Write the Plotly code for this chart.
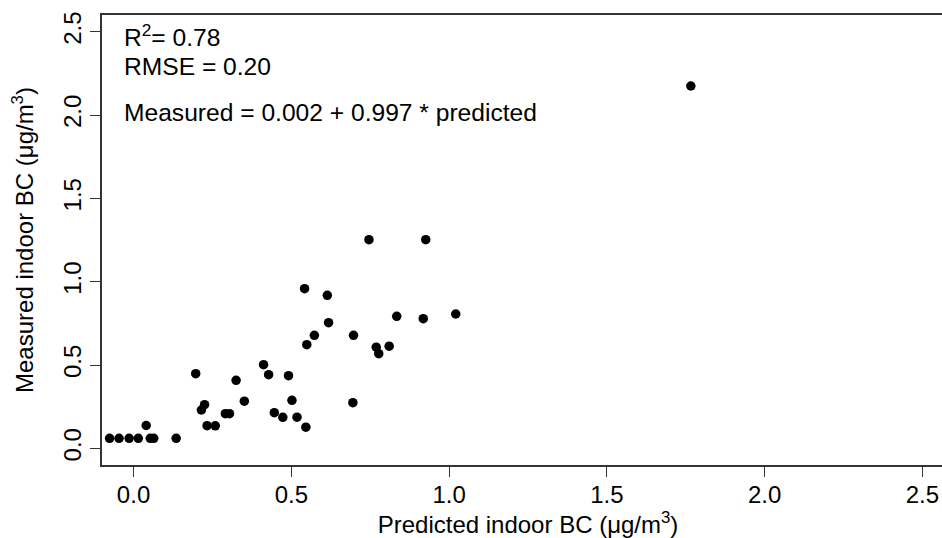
import plotly.graph_objects as go

# Data
predicted = [-0.076, -0.046, -0.014, 0.015, 0.053, 0.064, 0.040, 0.135,
             0.197, 0.215, 0.225, 0.233, 0.259, 0.291, 0.304, 0.325, 0.351,
             0.412, 0.428, 0.446, 0.473, 0.491, 0.502, 0.518, 0.546, 0.542,
             0.549, 0.573, 0.614, 0.618, 0.697, 0.695, 0.769, 0.777, 0.810,
             0.746, 0.926, 0.834, 0.918, 1.021, 1.766]
measured = [0.06, 0.06, 0.06, 0.06, 0.06, 0.06, 0.137, 0.06,
            0.448, 0.230, 0.262, 0.136, 0.135, 0.208, 0.208, 0.408, 0.283,
            0.502, 0.442, 0.214, 0.186, 0.436, 0.288, 0.187, 0.127, 0.958,
            0.622, 0.678, 0.918, 0.754, 0.678, 0.274, 0.607, 0.568, 0.613,
            1.252, 1.252, 0.792, 0.778, 0.806, 2.174]

tick_vals = [0.0, 0.5, 1.0, 1.5, 2.0, 2.5]
tick_text = ["0.0", "0.5", "1.0", "1.5", "2.0", "2.5"]

stats_lines = ["R<sup>2</sup>= 0.78", "RMSE = 0.20",
               "Measured = 0.002 + 0.997 * predicted"]
stats_y = [2.478, 2.292, 2.013]

x_title = "Predicted indoor BC (\u03bcg/m<sup>3</sup>)"
y_title = "Measured indoor BC (\u03bcg/m<sup>3</sup>)"

FONT = "Liberation Sans, Arial, sans-serif"
FS = 24
AXC = "#333333"

fig = go.Figure()
fig.add_trace(go.Scatter(
    x=predicted, y=measured, mode="markers",
    marker=dict(color="black", size=9.5, line=dict(width=0)),
    showlegend=False, hoverinfo="x+y"))

for txt, yy in zip(stats_lines, stats_y):
    fig.add_annotation(x=-0.036, y=yy, xref="x", yref="y", text=txt,
                       showarrow=False, xanchor="left", yanchor="middle",
                       font=dict(family=FONT, size=24.6, color="black"))

# The plotting region runs slightly past the right edge of the page,
# as in the reference (its right border is cropped away).
fig.update_layout(
    width=954, height=538,
    margin=dict(l=102, r=0, t=15, b=73, autoexpand=False),
    paper_bgcolor="white", plot_bgcolor="white",
    font=dict(family=FONT, size=FS, color="black"),
)
fig.update_xaxes(
    range=[-0.1, 2.6], tickvals=tick_vals, ticktext=tick_text,
    showgrid=False, zeroline=False, showline=True, linecolor=AXC,
    linewidth=1.5, mirror=True, ticks="outside", ticklen=10,
    tickcolor=AXC, tickwidth=1.2, automargin=False, ticklabelstandoff=-3,
    tickfont=dict(family=FONT, size=FS, color="black"),
    title=dict(text=x_title,
               font=dict(family=FONT, size=FS, color="black"), standoff=0),
)
fig.update_yaxes(
    range=[-0.1, 2.6], tickvals=tick_vals, ticktext=tick_text,
    showgrid=False, zeroline=False, showline=True, linecolor=AXC,
    linewidth=1.5, mirror=True, ticks="outside", ticklen=10,
    tickcolor=AXC, tickwidth=1.2, tickangle=-90, automargin=False,
    tickfont=dict(family=FONT, size=FS, color="black"),
    title=dict(text=y_title,
               font=dict(family=FONT, size=FS, color="black"), standoff=18),
)

fig.write_html(
    "out.html",
    config={"displayModeBar": False},
    post_script="document.documentElement.style.overflow='hidden';"
                "document.body.style.margin='0px';"
                "document.body.style.overflow='hidden';",
)
